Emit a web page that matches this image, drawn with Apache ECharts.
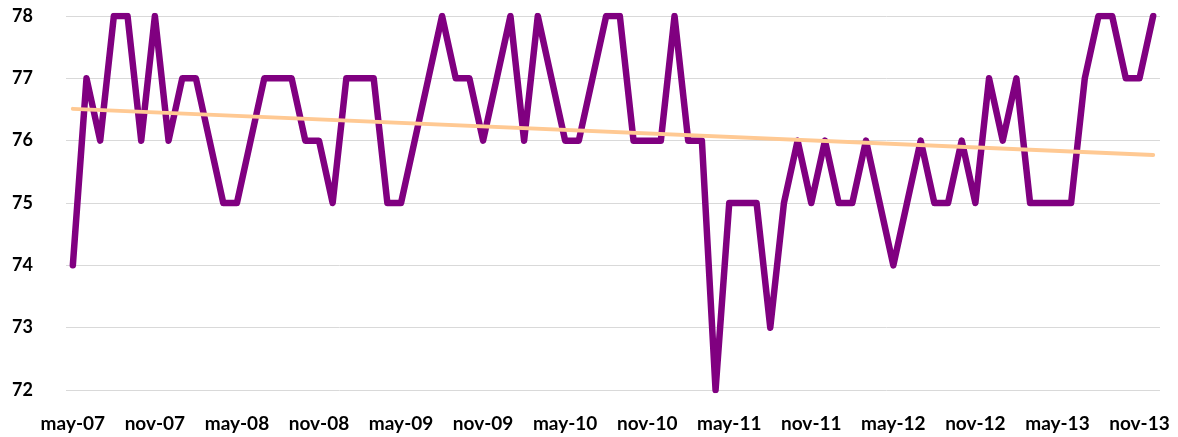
<!DOCTYPE html>
<html>
<head>
<meta charset="utf-8">
<script src="https://cdn.jsdelivr.net/npm/echarts@6/dist/echarts.min.js"></script>
<style>
  html, body { margin: 0; padding: 0; background: #fff; }
  #chart { width: 1178px; height: 437px; }
</style>
</head>
<body>
<div id="chart"></div>
<script>
// months, may-07 .. dec-13
const monthNames = ['ene', 'feb', 'mar', 'abr', 'may', 'jun', 'jul', 'ago', 'sep', 'oct', 'nov', 'dic']
const months = []
for (let y = 7; y <= 13; y++) {
  for (let m = 0; m < 12; m++) {
    if (y === 7 && m < 4) continue
    months.push(monthNames[m] + '-' + String(y).padStart(2, '0'))
  }
}

// values
const values = [
  74, 77, 76, 78, 78, 76, 78, 76, 77, 77,
  76, 75, 75, 76, 77, 77, 77, 76, 76, 75,
  77, 77, 77, 75, 75, 76, 77, 78, 77, 77,
  76, 77, 78, 76, 78, 77, 76, 76, 77, 78,
  78, 76, 76, 76, 78, 76, 76, 72, 75, 75,
  75, 73, 75, 76, 75, 76, 75, 75, 76, 75,
  74, 75, 76, 75, 75, 76, 75, 77, 76, 77,
  75, 75, 75, 75, 77, 78, 78, 77, 77, 78
]

// trend line end points
const trendStart = 76.51
const trendEnd = 75.77
const trend = values.map((v, i) => i === 0 ? trendStart : (i === values.length - 1 ? trendEnd : null))

const yTicks = [72, 73, 74, 75, 76, 77, 78]

const chart = echarts.init(document.getElementById('chart'))
chart.setOption({
  animation: false,
  grid: { left: 66, right: 18, top: 16, bottom: 47 },
  xAxis: {
    type: 'category',
    data: months,
    boundaryGap: true,
    axisLine: { show: false },
    axisTick: { show: false },
    axisLabel: {
      interval: 5,
      margin: 24,
      color: '#000',
      fontFamily: 'Lato',
      fontWeight: 'bold',
      fontSize: 19
    }
  },
  yAxis: {
    type: 'value',
    min: yTicks[0],
    max: yTicks[yTicks.length - 1],
    interval: 1,
    axisLine: { show: false },
    axisTick: { show: false },
    axisLabel: {
      margin: 33,
      color: '#000',
      fontFamily: 'Lato',
      fontWeight: 'bold',
      fontSize: 18
    },
    splitLine: { lineStyle: { color: '#d9d9d9', width: 1 } }
  },
  series: [
    {
      type: 'line',
      data: values,
      symbol: 'none',
      lineStyle: { color: '#800080', width: 6.5, cap: 'round', join: 'round' },
      z: 2
    },
    {
      type: 'line',
      data: trend,
      connectNulls: true,
      symbol: 'none',
      lineStyle: { color: '#ffc993', width: 4, cap: 'round' },
      z: 3
    }
  ]
})
</script>
</body>
</html>
